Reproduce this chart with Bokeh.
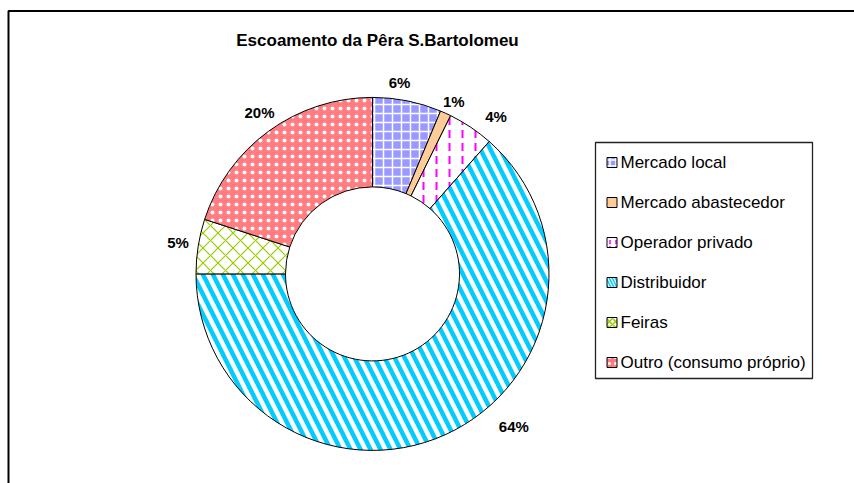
import numpy as np
from bokeh.plotting import figure
from bokeh.models import Range1d, ColumnDataSource
from bokeh.core.properties import value
from bokeh.embed import file_html
from bokeh.resources import INLINE

# ---- data ----
title_text = "Escoamento da Pêra S.Bartolomeu"
categories = ["Mercado local", "Mercado abastecedor", "Operador privado",
              "Distribuidor", "Feiras", "Outro (consumo próprio)"]
shares = [6.3, 1.0, 4.2, 63.5, 5.0, 20.0]

# ---- styles ----
fill_colors = ["#9999FF", "#FFCC99", "#FFFFFF", "#FFFFFF", "#FFFFFF", "#FF7C80"]
hatch_patterns = ["cross", "blank", "vertical_dash", "left_diagonal_line", "diagonal_cross", "dot"]
hatch_colors = ["#FFFFFF", "#000000", "#FF00FF", "#00CCFF", "#99CC00", "#FFFFFF"]
hatch_weights = [1.5, 1, 2, 4.5, 1.2, 0.5]
hatch_scales = [9, 10, 13, 20, 15, 8]
label_r = [193, 191, 200, 208, 197, 197]
label_shift_deg = [-3.3, 0.7, 4.3, -18.5, 0.1, 1.0]

W, H = 854, 483
cx, cy = 372, 209.6
r_out, r_in = 176.5, 87

vals = np.array(shares, dtype=float)
frac = vals / vals.sum()
end = np.cumsum(frac)
start = end - frac
sa = np.pi / 2 - 2 * np.pi * end
ea = np.pi / 2 - 2 * np.pi * start
mid_deg = (start + end) / 2 * 360 + np.array(label_shift_deg)
lx = cx + np.array(label_r) * np.sin(np.radians(mid_deg))
ly = cy + np.array(label_r) * np.cos(np.radians(mid_deg))
pct = [f"{int(s + 0.5)}%" for s in shares]

src = ColumnDataSource(dict(cat=categories, sa=sa, ea=ea, fill=fill_colors,
                            hp=hatch_patterns, hc=hatch_colors, hw=hatch_weights,
                            hs=hatch_scales, lx=lx, ly=ly, pct=pct))

p = figure(width=W, height=H, x_range=Range1d(0, W), y_range=Range1d(0, H),
           output_backend="svg", toolbar_location=None, min_border=0,
           x_axis_type=None, y_axis_type=None)
p.grid.visible = False
p.outline_line_color = None
p.background_fill_color = "white"
p.border_fill_color = "white"

# chart border (top and left visible)
p.line([8, 8, W + 5], [-5, 472.5, 472.5], line_color="black", line_width=2)

p.annular_wedge(x=cx, y=cy, inner_radius=r_in, outer_radius=r_out,
                start_angle="sa", end_angle="ea", direction="anticlock",
                fill_color="fill", hatch_pattern="hp", hatch_color="hc",
                hatch_weight="hw", hatch_scale="hs",
                line_color="black", line_width=1, source=src)

p.text(x="lx", y="ly", text="pct", source=src, text_align="center",
       text_baseline="middle", text_font=value("Liberation Sans"),
       text_font_style="bold", text_font_size="15px", text_color="black")

p.text(x=[377], y=[443], text=[title_text], text_align="center",
       text_baseline="middle", text_font=value("Liberation Sans"),
       text_font_style="bold", text_font_size="17px", text_color="black")

# legend
leg_left, leg_right, leg_top, leg_bottom = 595, 812, 341, 105
p.quad(left=[leg_left], right=[leg_right], top=[leg_top], bottom=[leg_bottom],
       fill_color=None, line_color="#222222", line_width=1.3)
row_y = [321 - 40 * i for i in range(len(categories))]
lsrc = ColumnDataSource(dict(y=row_y, cat=categories, fill=fill_colors,
                             hp=hatch_patterns, hc=hatch_colors))
p.rect(x=611.5, y="y", width=10, height=10, fill_color="fill",
       hatch_pattern="hp", hatch_color="hc", hatch_scale=6, hatch_weight=1.5,
       line_color="black", line_width=1, source=lsrc)
p.text(x=620, y="y", text="cat", source=lsrc, text_align="left",
       text_baseline="middle", text_font=value("Liberation Sans"),
       text_font_size="17px", text_color="black")

open("out.html", "w").write(file_html(p, INLINE))
